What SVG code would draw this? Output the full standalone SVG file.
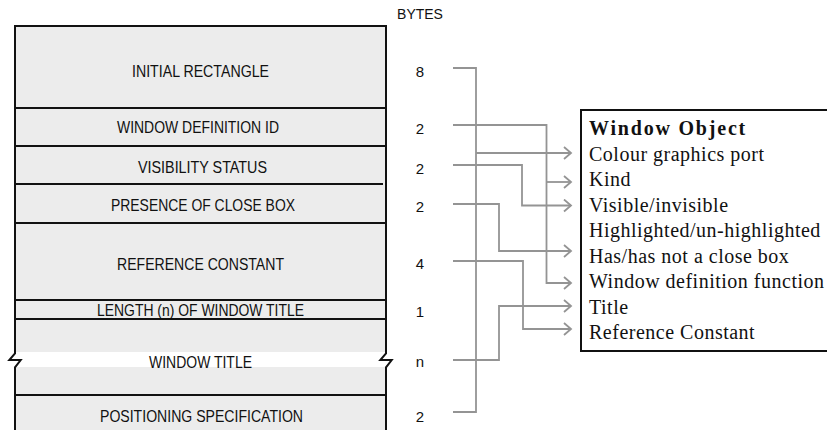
<svg xmlns="http://www.w3.org/2000/svg" width="827" height="430" viewBox="0 0 827 430">
  <style>
    .field { fill: #ececec; }
    .lbl { font-family: "Liberation Sans", Arial, sans-serif; font-size: 17px; fill: #111; text-anchor: middle; }
    .num { font-family: "Liberation Sans", Arial, sans-serif; font-size: 15px; fill: #111; text-anchor: middle; }
    .hdr { font-family: "Liberation Sans", Arial, sans-serif; font-size: 14px; fill: #111; text-anchor: middle; }
    .frame { stroke: #111; stroke-width: 2; fill: none; }
    .conn { stroke: #949494; stroke-width: 1.8; fill: none; }
    .obj { font-family: "Liberation Serif", "Times New Roman", serif; font-size: 20px; fill: #111; letter-spacing: 0.5px; }
    .objt { font-weight: bold; letter-spacing: 1.8px; }
  </style>
  <defs>
    <marker id="arr" markerUnits="userSpaceOnUse" markerWidth="12" markerHeight="16" refX="9" refY="7" orient="auto">
      <path d="M2,1 L9,7 L2,13" fill="none" stroke="#949494" stroke-width="1.8"/>
    </marker>
  </defs>

  <rect width="827" height="430" fill="#ffffff"/>

  <!-- record fields -->
  <g id="field-initial-rectangle">
    <rect class="field" x="15" y="26" width="371" height="82"/>
    <text class="lbl" x="200.5" y="76.5" textLength="137" lengthAdjust="spacingAndGlyphs">INITIAL RECTANGLE</text>
  </g>
  <g id="field-window-definition-id">
    <rect class="field" x="15" y="108" width="371" height="38"/>
    <text class="lbl" x="198" y="133" textLength="162" lengthAdjust="spacingAndGlyphs">WINDOW DEFINITION ID</text>
  </g>
  <g id="field-visibility-status">
    <rect class="field" x="15" y="146" width="371" height="38"/>
    <text class="lbl" x="202.5" y="173" textLength="129" lengthAdjust="spacingAndGlyphs">VISIBILITY STATUS</text>
  </g>
  <g id="field-close-box">
    <rect class="field" x="15" y="184" width="371" height="39"/>
    <text class="lbl" x="203" y="211" textLength="184" lengthAdjust="spacingAndGlyphs">PRESENCE OF CLOSE BOX</text>
  </g>
  <g id="field-reference-constant">
    <rect class="field" x="15" y="223" width="371" height="77"/>
    <text class="lbl" x="200.5" y="270" textLength="167" lengthAdjust="spacingAndGlyphs">REFERENCE CONSTANT</text>
  </g>
  <g id="field-title-length">
    <rect class="field" x="15" y="300" width="371" height="19"/>
    <text class="lbl" x="200.5" y="316" textLength="207" lengthAdjust="spacingAndGlyphs">LENGTH (n) OF WINDOW TITLE</text>
  </g>
  <g id="field-window-title">
    <rect class="field" x="15" y="319" width="371" height="76"/>
    <rect x="15" y="352" width="371" height="15" fill="#ffffff"/>
    <text class="lbl" x="200.5" y="368" textLength="103" lengthAdjust="spacingAndGlyphs">WINDOW TITLE</text>
  </g>
  <g id="field-positioning">
    <rect class="field" x="15" y="395" width="371" height="40"/>
    <text class="lbl" x="201.5" y="421.5" textLength="203" lengthAdjust="spacingAndGlyphs">POSITIONING SPECIFICATION</text>
  </g>

  <!-- outline of the record, with break marks across the variable-length title -->
  <g id="record-frame" class="frame">
    <path d="M15,432 V367.3 L20.7,360 H9.3 L15,353.3 V26 H386 V353.3 L380.3,360 H391.7 L386,367.3 V432"/>
    <path d="M15,108 H386 M15,146 H386 M15,184 H383 M15,223 H386 M15,300 H386 M15,319 H386 M15,395 H386"/>
  </g>

  <!-- byte counts -->
  <g id="byte-counts">
    <text class="hdr" x="420" y="19">BYTES</text>
    <text class="num" x="420" y="77">8</text>
    <text class="num" x="420" y="133.5">2</text>
    <text class="num" x="420" y="173.5">2</text>
    <text class="num" x="420" y="212">2</text>
    <text class="num" x="420" y="269">4</text>
    <text class="num" x="420" y="317">1</text>
    <text class="num" x="420" y="367">n</text>
    <text class="num" x="420" y="422">2</text>
  </g>

  <!-- window object record -->
  <g id="window-object">
    <rect x="581" y="110" width="260" height="241" fill="#ffffff" stroke="#111" stroke-width="2"/>
    <text class="obj objt" x="589" y="135">Window Object</text>
    <text class="obj" x="589" y="160.5">Colour graphics port</text>
    <text class="obj" x="589" y="186">Kind</text>
    <text class="obj" x="589" y="211.5">Visible/invisible</text>
    <text class="obj" x="589" y="237">Highlighted/un-highlighted</text>
    <text class="obj" x="589" y="262.5">Has/has not a close box</text>
    <text class="obj" x="589" y="288">Window definition function</text>
    <text class="obj" x="589" y="313.5">Title</text>
    <text class="obj" x="589" y="339">Reference Constant</text>
  </g>

  <!-- connectors from byte counts to window object fields -->
  <g id="connectors" class="conn">
    <path d="M453,68 H476 V412 H453"/>
    <path d="M476,153 H571" marker-end="url(#arr)"/>
    <path d="M453,125 H546.5 V283 H571" marker-end="url(#arr)"/>
    <path d="M546.5,182 H571" marker-end="url(#arr)"/>
    <path d="M453,165 H522 V205.5 H571" marker-end="url(#arr)"/>
    <path d="M453,204 H499 V251 H571" marker-end="url(#arr)"/>
    <path d="M453,261 H523 V329 H571" marker-end="url(#arr)"/>
    <path d="M453,360 H499 V306 H571" marker-end="url(#arr)"/>
  </g>
</svg>
